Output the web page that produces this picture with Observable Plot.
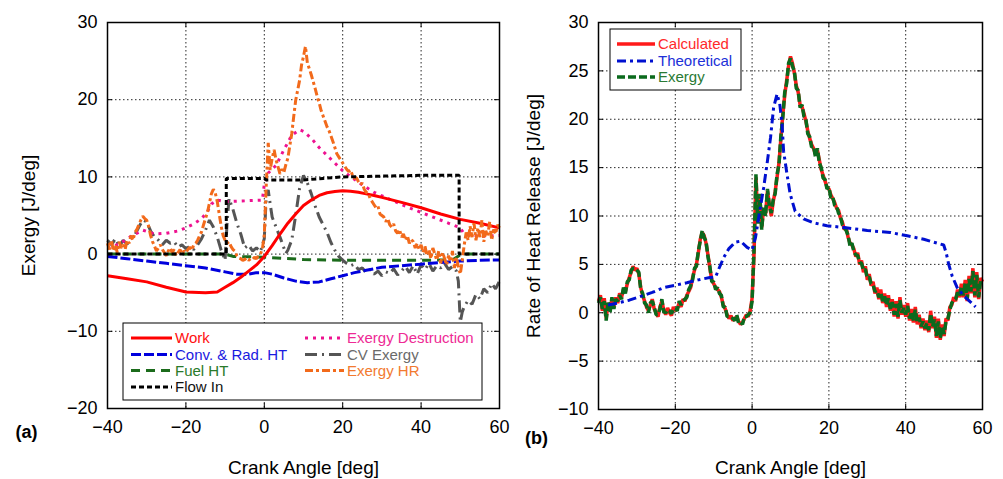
<!DOCTYPE html>
<html><head><meta charset="utf-8">
<script src="https://cdn.jsdelivr.net/npm/d3@7"></script>
<script src="https://cdn.jsdelivr.net/npm/@observablehq/plot@0.6"></script>
<style>
html,body{margin:0;padding:0;background:#fff;}
#wrap{position:relative;width:1003px;height:479px;overflow:hidden;background:#fff;}
#wrap svg{position:absolute;top:0;}
</style></head><body><div id="wrap"></div>
<script>
// ---------- tick labels ----------
const xTicks = [-40, -20, 0, 20, 40, 60];
const yTicksA = [-20, -10, 0, 10, 20, 30];
const yTicksB = [-10, -5, 0, 5, 10, 15, 20, 25, 30];

// ---------- panel (a) : exergy terms ----------
const workAngle = [-40,-35,-30,-25,-20,-15,-12,-10,-8,-6,-4,-2,0,2,4,6,8,10,12,14,16,18,20,22,24,26,28,30,35,40,45,50,55,60];
const work      = [-2.8,-3.2,-3.6,-4.3,-4.9,-5.0,-4.9,-4.3,-3.7,-3.0,-2.2,-1.4,-0.3,1.1,2.6,4.0,5.2,6.3,7.0,7.6,7.95,8.1,8.2,8.15,8.0,7.8,7.6,7.35,6.7,6.0,5.2,4.5,4.0,3.4];

const convAngle = [-40,-35,-30,-25,-20,-15,-10,-7,-4,-2,0,2,5,8,11,14,17,20,23,26,30,35,40,45,50,55,60];
const convRadHT = [-0.3,-0.6,-0.9,-1.2,-1.5,-1.8,-2.3,-2.6,-2.6,-2.4,-2.4,-2.6,-3.1,-3.5,-3.7,-3.6,-3.2,-2.8,-2.4,-2.1,-1.7,-1.5,-1.3,-1.1,-0.9,-0.8,-0.75];

const fuelAngle = [-40,-10,-8,0,10,20,30,40,48,50,52,60];
const fuelHT    = [0,0,-0.3,-0.4,-0.7,-0.8,-0.8,-0.8,-0.75,-0.1,0,0];

const flowAngle = [-40,-9.7,-9.7,0,0.5,10,15,20,30,40,49.7,49.7,60];
const flowIn    = [0,0,9.8,9.8,9.6,9.6,9.8,10.0,10.1,10.2,10.2,0,0];

const destAngle = [-40,-37,-34,-31,-28,-25,-22,-20,-18,-16,-14.5,-13.5,-12,-10,-5,-0.5,0,1,3,5,7,9,10,12,14,16,18,20,24,28,32,36,40,44,48,50,51,55,60];
const exergyDestruction = [0.8,1.3,2.3,3.1,2.6,2.7,3.0,3.4,3.9,4.6,5.5,6.5,7.0,6.8,6.9,7.0,9.0,10.5,11.5,13.5,15.4,16.1,15.9,15.0,13.8,12.8,11.8,10.8,9.3,8.0,7.1,6.2,5.4,4.6,3.8,3.4,2.6,2.3,2.4];

const cvAngle = [
  -40,-39,-38,-37,-36,-35,-34,-33,-32,-31,
  -30,-29,-28,-27,-26,-25,-24,-23,-22,-21,
  -20,-19,-18,-17,-16,-15,-14,-13,-12,-11,
  -10,-9.5,-9,-8,-7,-6,-5,-4,-3,-2,
  -1,0,0.5,1,1.5,2,3,4,5,5.5,
  6,7,8,9,10,11,12,13,14,15,
  16,17,18,19,20,21,22,23,24,25,
  26,27,28,29,30,31,32,33,34,35,
  36,37,38,39,40,41,42,43,44,45,
  46,47,48,49,49.5,50,50.5,51,52,53,
  54,55,56,57,58,59,60];
const cvExergy = [
  1.8,1.2,2.0,1.0,1.8,1.3,2.0,2.5,3.5,4.4,
  4.2,3.0,2.2,1.8,1.2,1.8,1.4,1.6,0.9,1.2,
  0.7,1.0,0.6,1.2,2.0,3.1,4.4,3.5,2.2,0.5,
  -0.8,4.0,7.2,5.8,4.0,2.6,0.8,1.2,0.4,0.8,
  0.3,2.0,7.5,8.3,6.5,4.8,3.5,2.2,0.8,0.1,
  0.5,1.8,5.0,8.5,10.2,9.2,7.8,6.2,4.8,3.8,
  2.8,1.5,0.5,-0.3,-0.8,-1.2,-1.5,-1.3,-2.0,-1.8,
  -2.4,-2.0,-2.6,-2.2,-2.8,-2.3,-2.5,-1.9,-2.7,-2.2,
  -1.6,-2.4,-1.5,-2.6,-1.4,-2.0,-1.2,-2.2,-1.5,-1.8,
  -1.2,-2.0,-1.6,-2.2,-3.5,-8.8,-7.5,-6.8,-6.0,-6.5,
  -5.2,-5.8,-4.5,-5.0,-3.8,-4.5,-3.5];

// sampled every 0.5 deg from -40 to 60
const sampleAngle = d3.range(-40, 60.25, 0.5);
const exergyHR = [
  1.4,0.6,1.8,0.4,1.2,0.2,1.6,0.8,1.2,0.6, 1.8,1.4,2.4,1.8,2.8,3.2,3.8,4.4,4.9,4.6,
  4.4,3.6,2.4,1.6,1.0,0.4,0.8,1.2,0.6,0.2, -0.2,0.4,0.8,0.2,0.6,-0.2,0.2,0.6,0.0,0.4,
  0.2,0.6,0.9,0.5,1.2,1.4,1.8,2.4,2.9,3.8, 4.6,5.4,6.6,7.8,8.4,7.9,6.8,5.2,3.6,2.4,
  1.8,1.4,1.6,1.0,0.6,0.4,-0.2,-0.5,-0.6,-0.8, -0.7,-0.5,-0.8,-0.6,-0.7,-0.4,-0.6,-0.2,0.0,0.6,
  2.5,9.0,14.4,10.9,12.4,13.5,12.2,11.3,10.4,11.0, 10.6,11.6,12.4,14.0,15.6,17.8,19.9,21.2,22.5,24.5,
  25.6,26.9,24.7,24.0,23.2,22.3,21.4,20.4,19.6,18.6, 17.9,17.2,16.5,16.0,15.3,14.6,13.8,13.0,12.6,12.2,
  11.8,11.4,11.0,10.7,10.9,10.2,9.8,9.9,9.4,9.0, 9.2,8.4,8.0,7.9,7.2,6.8,6.4,6.0,6.2,5.2,
  5.0,4.8,4.2,4.6,3.8,3.5,3.9,3.0,2.7,3.2, 2.2,2.6,1.8,2.4,1.4,1.9,1.6,0.8,1.4,0.6,
  1.2,0.2,1.0,-0.2,0.6,-0.6,0.8,0.0,-0.8,0.4, -1.2,0.2,-0.6,-1.4,-0.2,-1.0,0.4,-1.8,-0.4,-1.6,
  -2.6,-0.8,1.2,2.8,1.8,3.6,2.2,4.0,1.8,3.4, 2.2,4.4,1.6,3.0,2.4,4.2,1.8,3.2,2.6,3.8,
  3.4];

// ---------- panel (b) : rate of heat release ----------
const calculated = [
  1.2,1.8,0.2,1.5,-0.6,1.0,0.3,1.4,0.6,1.6, 1.0,2.0,1.6,2.4,2.2,3.0,3.6,4.2,4.8,4.4,
  4.6,4.0,2.6,1.8,1.2,0.6,0.2,0.8,1.4,0.4, 0.0,-0.4,0.6,1.2,0.3,-0.2,0.5,0.0,-0.3,0.6,
  0.2,0.4,1.0,0.6,1.4,1.2,1.8,2.2,2.6,3.6, 4.4,5.0,6.2,7.6,8.3,8.0,7.2,6.0,4.6,3.4,
  3.0,2.6,2.4,2.2,1.6,0.8,0.4,-0.2,-0.6,-0.3, -0.8,-0.6,-0.4,-0.9,-1.2,-1.0,-0.6,-0.2,-0.4,0.2,
  1.5,6.0,14.0,9.5,12.0,8.8,10.8,10.2,12.6,11.2, 10.0,11.5,12.5,14.0,15.5,18.0,20.5,22.5,24.0,25.5,
  26.5,25.8,24.8,23.5,22.8,21.5,21.3,20.6,19.8,18.8, 18.0,17.4,17.0,16.4,16.8,15.8,14.8,14.2,13.6,13.0,
  12.8,12.2,11.8,11.4,10.8,10.6,9.8,9.4,8.6,8.8, 7.8,7.2,7.0,6.6,5.8,6.2,5.0,5.4,4.2,4.8,
  3.4,4.0,2.8,3.2,2.0,2.6,1.4,2.4,1.0,2.0, 0.6,1.8,0.2,1.4,-0.4,1.2,-0.6,1.6,-0.2,0.8,
  -0.4,1.0,-0.8,0.4,-1.0,0.6,-1.2,-0.2,-1.6,-0.6, -1.8,-0.8,-2.0,0.2,-1.6,-0.4,-2.6,-0.6,-2.8,-1.2,
  -2.4,-0.6,-0.8,0.6,0.8,1.6,1.2,2.4,1.6,3.0, 1.6,3.4,1.2,3.8,2.0,4.6,1.6,4.2,1.4,3.6,
  3.2];
const exergy = [
  1.0,1.6,0.4,1.2,-0.8,1.2,0.0,1.6,0.4,1.4, 1.2,1.8,1.4,2.6,2.0,3.2,3.4,4.4,4.6,4.6,
  4.4,4.2,2.4,2.0,1.0,0.8,0.0,1.0,1.2,0.6, -0.2,-0.2,0.4,1.4,0.1,0.0,0.3,0.2,-0.1,0.4,
  0.4,0.2,1.2,0.8,1.2,1.4,1.6,2.4,2.8,3.4, 4.6,4.8,6.4,7.4,8.5,7.8,7.4,5.8,4.8,3.2,
  3.2,2.4,2.6,2.0,1.8,0.6,0.6,-0.4,-0.4,-0.5, -0.6,-0.8,-0.2,-1.1,-1.0,-1.2,-0.4,-0.4,-0.2,0.0,
  1.2,6.5,14.3,9.2,12.3,8.6,11.0,10.0,12.8,11.0, 10.3,11.7,12.3,14.3,15.3,18.3,20.2,22.8,23.7,25.8,
  26.3,25.5,25.0,23.2,23.0,21.2,21.5,20.3,20.0,18.5, 18.2,17.1,17.2,16.1,17.0,15.5,15.0,13.9,13.8,12.8,
  13.0,11.9,12.0,11.1,11.0,10.3,10.0,9.1,8.8,8.5, 8.0,6.9,7.2,6.3,6.0,5.9,5.2,5.1,4.4,4.5,
  3.6,3.7,3.0,2.9,2.2,2.3,1.6,2.1,1.2,1.7, 0.8,1.5,0.4,1.1,-0.2,0.9,-0.4,1.3,0.0,0.5,
  -0.2,0.7,-0.6,0.1,-0.8,0.3,-1.0,-0.5,-1.4,-0.9, -1.6,-1.1,-1.8,-0.1,-1.4,-0.7,-2.4,-0.9,-2.6,-1.5,
  -2.2,-0.9,-0.6,0.3,1.0,1.3,1.4,2.1,1.8,2.7, 1.8,3.1,1.4,3.5,2.2,4.3,1.8,3.9,1.6,3.3,
  3.4];
const theoAngle = [-37.5,-35,-32,-29,-26,-23,-20,-17,-14,-11,-9.5,-8.7,-7.4,-6.1,-4.4,-3,-1.3,0,0.9,1.7,3,3.9,4.8,5.6,6.5,7.2,7.8,8.2,9.1,9.9,11.2,13.4,16,19.5,24,30,36,40.4,44.7,49,49.9,50.6,51.2,52.1,53.4,55.1,56.9,58.2];
const theoretical = [0.8,1.0,1.3,1.7,2.1,2.6,2.85,3.1,3.4,3.65,3.7,4.5,5.7,6.6,7.3,7.4,6.75,6.5,7.8,9.8,12.9,15.4,18.1,21.2,22.6,21.6,19.5,16.7,14.3,12.3,10.5,9.7,9.3,9.0,8.8,8.5,8.3,7.95,7.6,7.1,7.0,6.1,5.0,3.8,2.6,1.75,1.1,0.6];

// ---------- legend names ----------
const seriesA = ["Work","Conv. & Rad. HT","Fuel HT","Flow In","Exergy Destruction","CV Exergy","Exergy HR"];
const seriesB = ["Calculated","Theoretical","Exergy"];

// ---------- styles ----------
const styleA = {
  "Work":               {stroke:"#ff0000", text:"#ff1010", dash:null,         w:3},
  "Conv. & Rad. HT":    {stroke:"#0000dd", text:"#1a1ae0", dash:"10,3",       w:3},
  "Fuel HT":            {stroke:"#1b6b1b", text:"#2a7a2a", dash:"9,6",        w:3},
  "Flow In":            {stroke:"#000000", text:"#111111", dash:"5,3",        w:3},
  "Exergy Destruction": {stroke:"#ee1290", text:"#ee2a95", dash:"3,5",        w:3},
  "CV Exergy":          {stroke:"#555555", text:"#6a6a6a", dash:"12,5,2,5",   w:3},
  "Exergy HR":          {stroke:"#f26a1b", text:"#f27a30", dash:"8,3,3,3",    w:3}
};
const styleB = {
  "Calculated":  {stroke:"#ff1a1a", text:"#ff2a2a", dash:null,      w:3.5},
  "Theoretical": {stroke:"#0010d0", text:"#2030d8", dash:"9,4,3,4", w:3},
  "Exergy":      {stroke:"#0b6a1d", text:"#2a7a35", dash:"8,3",     w:3.5}
};

const FONT = '"Liberation Sans", Arial, Helvetica, sans-serif';
const rows = (xs, ys) => xs.map((x, i) => ({x, y: ys[i]}));
const lineOf = (data, st) => Plot.line(data, {x:"x", y:"y", stroke: st.stroke, strokeWidth: st.w,
  strokeDasharray: st.dash || undefined, strokeLinejoin:"miter", strokeLinecap:"butt"});
const gridStyle = {stroke:"#000", strokeOpacity:0.85, strokeWidth:1, strokeDasharray:"1.5,2.5"};
const label = (s, o) => Plot.text([s], {text: d => d, textAnchor:"middle", lineAnchor:"middle", ...o});

function frameMarks(xt, yt, innerW, innerH) {
  return [
    Plot.gridX(xt, gridStyle),
    Plot.gridY(yt, gridStyle),
    Plot.tickX(xt, {x: d => d, insetTop: innerH - 5, stroke:"#000"}),
    Plot.tickX(xt, {x: d => d, insetBottom: innerH - 5, stroke:"#000"}),
    Plot.tickY(yt, {y: d => d, insetRight: innerW - 5, stroke:"#000"}),
    Plot.tickY(yt, {y: d => d, insetLeft: innerW - 5, stroke:"#000"})
  ];
}
const svgStyle = {fontFamily: FONT, fontSize:"18px", color:"#000", background:"transparent", overflow:"visible", maxWidth:"none"};

// ---------- panel (a) ----------
const A = {w:500, h:479, ml:107, mr:1, mt:22, mb:71};
const plotA = Plot.plot({
  width:A.w, height:A.h, marginLeft:A.ml, marginRight:A.mr, marginTop:A.mt, marginBottom:A.mb,
  style: svgStyle,
  x: {domain:[-40,60], ticks:xTicks, tickSize:0, tickPadding:12, label:null},
  y: {domain:[-20,30], ticks:yTicksA, tickSize:0, tickPadding:10, label:null},
  marks: [
    ...frameMarks(xTicks, yTicksA, A.w - A.ml - A.mr, A.h - A.mt - A.mb),
    lineOf(rows(cvAngle, cvExergy), styleA["CV Exergy"]),
    lineOf(rows(fuelAngle, fuelHT), styleA["Fuel HT"]),
    lineOf(rows(convAngle, convRadHT), styleA["Conv. & Rad. HT"]),
    lineOf(rows(destAngle, exergyDestruction), styleA["Exergy Destruction"]),
    lineOf(rows(workAngle, work), styleA["Work"]),
    lineOf(rows(sampleAngle, exergyHR), styleA["Exergy HR"]),
    lineOf(rows(flowAngle, flowIn), styleA["Flow In"]),
    Plot.frame({stroke:"#000", strokeWidth:1.5}),
    label("Crank Angle [deg]", {frameAnchor:"bottom", dy:59, fontSize:19}),
    label("Exergy [J/deg]", {frameAnchor:"left", rotate:-90, dx:-79, fontSize:19}),
    label("(a)", {frameAnchor:"bottom-left", dx:-81, dy:24, fontSize:18, fontWeight:"bold"})
  ]
});
plotA.style.left = "0px";

// ---------- panel (b) ----------
const B = {w:503, h:479, ml:98, mr:21, mt:22, mb:70};
const plotB = Plot.plot({
  width:B.w, height:B.h, marginLeft:B.ml, marginRight:B.mr, marginTop:B.mt, marginBottom:B.mb,
  style: svgStyle,
  x: {domain:[-40,60], ticks:xTicks, tickSize:0, tickPadding:12, label:null},
  y: {domain:[-10,30], ticks:yTicksB, tickSize:0, tickPadding:10, label:null},
  marks: [
    ...frameMarks(xTicks, yTicksB, B.w - B.ml - B.mr, B.h - B.mt - B.mb),
    lineOf(rows(sampleAngle, calculated), styleB["Calculated"]),
    lineOf(rows(sampleAngle, exergy), styleB["Exergy"]),
    lineOf(rows(theoAngle, theoretical), styleB["Theoretical"]),
    Plot.frame({stroke:"#000", strokeWidth:1.5}),
    label("Crank Angle [deg]", {frameAnchor:"bottom", dy:58, fontSize:19}),
    label("Rate of Heat Release [J/deg]", {frameAnchor:"left", rotate:-90, dx:-65, fontSize:19}),
    label("(b)", {frameAnchor:"bottom-left", dx:-62, dy:29, fontSize:18, fontWeight:"bold"})
  ]
});
plotB.style.left = "500px";

const wrap = document.getElementById("wrap");
wrap.appendChild(plotA);
wrap.appendChild(plotB);

// ---------- legends ----------
function legend(svg, box, items, styles) {
  const g = d3.select(svg).append("g").attr("font-family", FONT).attr("font-size", 15)
    .attr("text-anchor", "start");
  g.append("rect").attr("x", box.x).attr("y", box.y).attr("width", box.w).attr("height", box.h)
    .attr("fill", "#fff").attr("stroke", "#000").attr("stroke-width", 1);
  items.forEach(it => {
    const st = styles[it.name];
    g.append("line").attr("x1", it.x).attr("x2", it.x + it.len).attr("y1", it.y).attr("y2", it.y)
      .attr("stroke", st.stroke).attr("stroke-width", st.w)
      .attr("stroke-dasharray", st.dash || null);
    g.append("text").attr("x", it.x + it.len + 3).attr("y", it.y).attr("dy", "0.35em")
      .attr("text-anchor", "start").attr("fill", st.text).text(it.name);
  });
}
const colA = [131, 305], rowA = [338, 354.5, 370.5, 387];
legend(plotA, {x:123, y:323, w:359, h:77}, [
  {name:seriesA[0], x:colA[0], y:rowA[0], len:41},
  {name:seriesA[1], x:colA[0], y:rowA[1], len:41},
  {name:seriesA[2], x:colA[0], y:rowA[2], len:41},
  {name:seriesA[3], x:colA[0], y:rowA[3], len:41},
  {name:seriesA[4], x:colA[1], y:rowA[0], len:39},
  {name:seriesA[5], x:colA[1], y:rowA[1], len:39},
  {name:seriesA[6], x:colA[1], y:rowA[2], len:39}
], styleA);
legend(plotB, {x:110, y:29, w:131, h:61}, [
  {name:seriesB[0], x:117, y:44, len:38},
  {name:seriesB[1], x:117, y:61, len:38},
  {name:seriesB[2], x:117, y:77, len:38}
], styleB);
</script></body></html>
